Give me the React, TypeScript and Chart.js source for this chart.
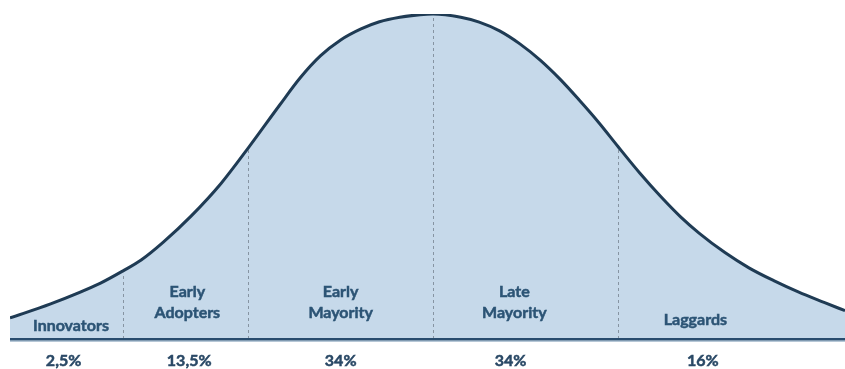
import React, { useEffect, useRef } from "react";
import { Chart, registerables } from "chart.js";

Chart.register(...registerables);

// Position along the curve (in standard deviations from the mean)
const positions = [
  -2.29, -2.07, -1.8, -1.68, -1.58, -1.46, -1.31, -1.15, -1.0, -0.83, -0.72, -0.61,
  -0.5, -0.39, -0.29, -0.18, -0.07, 0, 0.15, 0.25, 0.36, 0.47, 0.58, 0.69, 0.79,
  0.9, 1.0, 1.12, 1.23, 1.34, 1.44, 1.58, 1.71, 1.85, 1.98, 2.12, 2.23,
];
// Relative height of the curve (peak = 100)
const heights = [
  6.5, 10.8, 17.2, 20.9, 24.3, 29.8, 37.8, 47.7, 58.8, 72.0, 80.3, 87.1,
  92.0, 95.4, 97.6, 99.0, 99.8, 100, 99.0, 97.5, 94.8, 90.8, 85.8, 79.8, 73.6,
  66.4, 59.3, 51.0, 44.0, 37.6, 32.6, 26.6, 21.9, 17.8, 14.4, 11.2, 8.7,
];
// Segment boundaries (positions where dashed dividers are drawn)
const boundaries = [-1.68, -1.0, 0, 1.0];
// Segment names and shares
const segmentNames = [["Innovators"], ["Early", "Adopters"], ["Early", "Mayority"], ["Late", "Mayority"], ["Laggards"]];
const segmentShares = ["2,5%", "13,5%", "34%", "34%", "16%"];

const TEXT_COLOR = "#2c5475";
const FONT = "bold 16px Lato, 'Open Sans', sans-serif";

function boldText(ctx: CanvasRenderingContext2D, s: string, x: number, y: number) {
  ctx.fillText(s, x, y);
  ctx.strokeText(s, x, y);
}

const overlayPlugin = {
  id: "overlay",
  afterDatasetsDraw(chart: any, _args: any, opts: any) {
    const { ctx, chartArea, scales } = chart;
    const xs = scales.x;
    const ys = scales.y;
    const bottom = chartArea.bottom;
    ctx.save();
    // dashed dividers
    ctx.strokeStyle = "#8694a2";
    ctx.lineWidth = 1;
    ctx.setLineDash([3, 3]);
    boundaries.forEach((b) => {
      const i = positions.indexOf(b);
      const px = Math.round(xs.getPixelForValue(b)) + 0.5;
      const top = ys.getPixelForValue(heights[i]) + 2;
      ctx.beginPath();
      ctx.moveTo(px, bottom);
      ctx.lineTo(px, top);
      ctx.stroke();
    });
    ctx.setLineDash([]);
    // baseline
    ctx.fillStyle = "#284c6e";
    ctx.fillRect(chartArea.left, bottom - 1, chartArea.right - chartArea.left, 2.5);
    ctx.fillStyle = "#6f8fae";
    ctx.fillRect(chartArea.left, bottom + 1.5, chartArea.right - chartArea.left, 1);
    // labels
    ctx.font = FONT;
    ctx.textAlign = "center";
    ctx.textBaseline = "alphabetic";
    ctx.lineWidth = 0.5;
    ctx.fillStyle = TEXT_COLOR;
    ctx.strokeStyle = TEXT_COLOR;
    segmentNames.forEach((lines, k) => {
      const px = xs.getPixelForValue(opts.labelAt[k]);
      if (lines.length === 1) {
        boldText(ctx, lines[0], px, bottom + opts.singleOffset[k]);
      } else {
        boldText(ctx, lines[0], px, bottom - 42);
        boldText(ctx, lines[1], px, bottom - 21);
      }
    });
    ctx.fillStyle = "#2a4966";
    ctx.strokeStyle = "#2a4966";
    segmentShares.forEach((s, k) => {
      const px = xs.getPixelForValue(opts.shareAt[k]);
      boldText(ctx, s, px, bottom + 27);
    });
    ctx.restore();
  },
};

export default function App() {
  const ref = useRef<HTMLCanvasElement>(null);
  useEffect(() => {
    if (!ref.current) return;
    const chart = new Chart(ref.current, {
      type: "line",
      data: {
        datasets: [
          {
            data: positions.map((p, i) => ({ x: p, y: heights[i] })),
            borderColor: "#1f3b54",
            borderWidth: 3,
            backgroundColor: "#c6d9ea",
            fill: "origin",
            pointRadius: 0,
            cubicInterpolationMode: "monotone",
          },
        ],
      },
      options: {
        animation: false,
        responsive: false,
        layout: { padding: { left: 10, right: 0, top: 14, bottom: 30 } },
        scales: {
          x: { type: "linear", min: -2.29, max: 2.23, display: false },
          y: { min: 0, max: 100, display: false },
        },
        plugins: {
          legend: { display: false },
          tooltip: { enabled: false },
          overlay: {
            labelAt: [-1.96, -1.33, -0.5, 0.44, 1.42],
            shareAt: [-2.0, -1.32, -0.5, 0.42, 1.46],
            singleOffset: [-8, 0, 0, 0, -14],
          },
        } as any,
      },
      plugins: [overlayPlugin],
    });
    return () => chart.destroy();
  }, []);
  return (
    <div style={{ position: "absolute", left: 0, top: 0, width: 845, height: 369, background: "#fff" }}>
      <canvas ref={ref} width={845} height={369} />
    </div>
  );
}
